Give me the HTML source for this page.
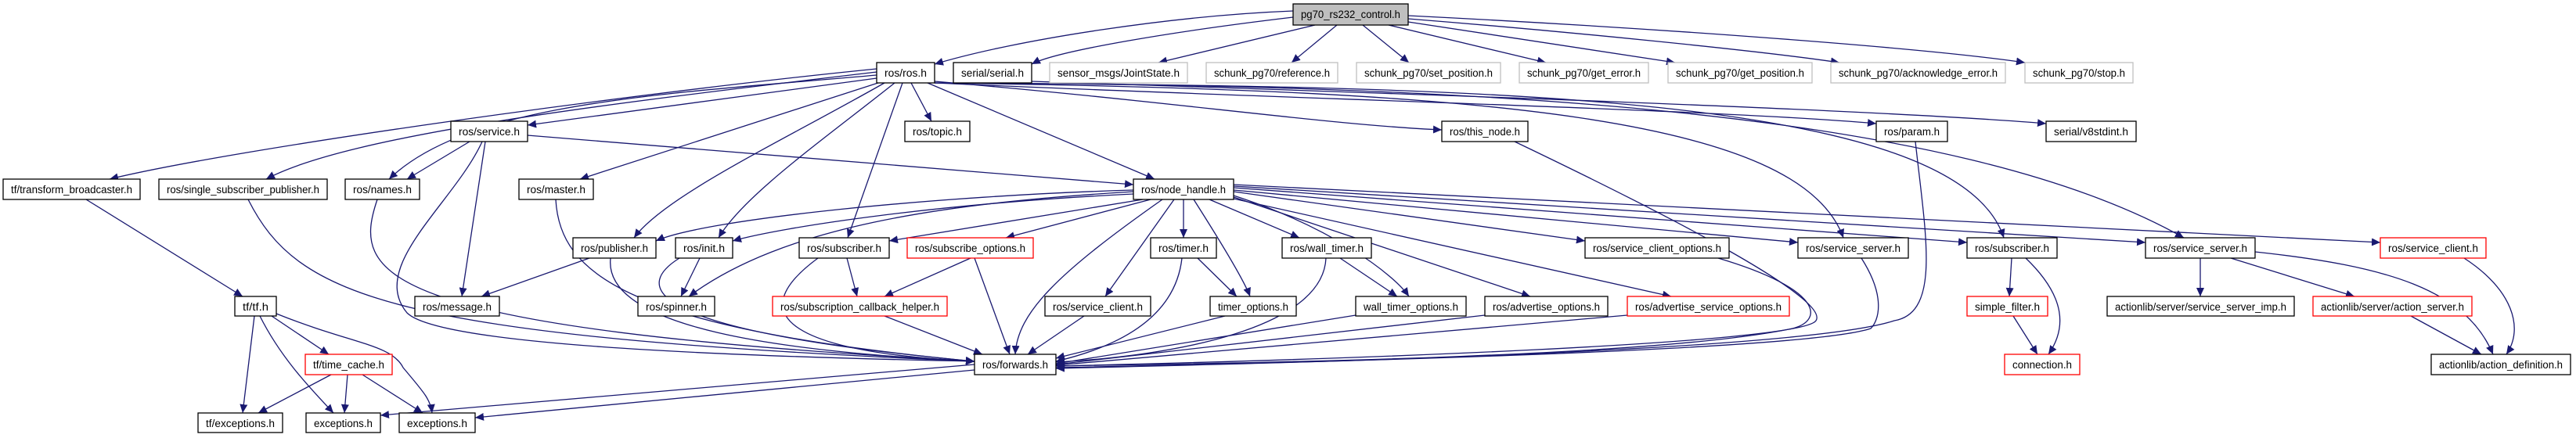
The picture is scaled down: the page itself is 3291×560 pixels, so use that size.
<!DOCTYPE html>
<html><head><meta charset="utf-8"><style>
html,body{margin:0;padding:0;background:#fff;}
svg{display:block;}
text{font-family:"Liberation Sans",sans-serif;font-size:13.5px;fill:#000;}
.e{fill:none;stroke:#191970;stroke-width:1.3;}
</style></head><body>
<svg xmlns="http://www.w3.org/2000/svg" width="3291" height="560" viewBox="0 0 3291 560">
<defs><marker id="a" markerUnits="userSpaceOnUse" markerWidth="12" markerHeight="10" refX="11" refY="5" orient="auto"><path d="M0,0 L11,5 L0,10 z" fill="#191970"/></marker></defs>
<g class="e" marker-end="url(#a)">
<!-- pg70 -->
<path d="M1652,14 C1500,20 1300,50 1194,82"/>
<path d="M1652,22 C1500,40 1350,65 1318,82"/>
<path d="M1680,32 L1480,80"/>
<path d="M1708,32 L1650,80"/>
<path d="M1741,32 L1800,80"/>
<path d="M1774,32 L1975,80"/>
<path d="M1799,28 L2140,80"/>
<path d="M1799,24 C2000,40 2250,65 2350,80"/>
<path d="M1799,20 C2100,35 2450,60 2587,80"/>
<!-- ros.h -->
<path d="M1120,88 C800,120 300,190 140,229"/>
<path d="M1120,92 C800,130 450,170 340,229"/>
<path d="M1120,96 C850,120 600,130 497,229"/>
<path d="M1120,100 L674,160"/>
<path d="M1128,104 L741,229"/>
<path d="M1130,106 C1000,180 850,250 810,304"/>
<path d="M1143,106 C1050,180 950,250 918,304"/>
<path d="M1153,106 L1083,304"/>
<path d="M1164,106 L1190,155"/>
<path d="M1185,106 L1475,229"/>
<path d="M1194,104 C1500,130 1700,160 1842,166"/>
<path d="M1194,106 C1600,125 2200,140 2397,158"/>
<path d="M1318,104 C1800,120 2400,140 2614,158"/>
<path d="M1194,106 C1900,115 2300,150 2355,304"/>
<path d="M1194,106 C1900,110 2500,120 2560,304"/>
<path d="M1194,106 C1900,108 2500,140 2790,304"/>
<!-- service.h -->
<path d="M600,181 L520,229"/>
<path d="M620,181 L590,379"/>
<path d="M616,181 C580,260 470,340 520,400 C560,440 900,455 1245,462"/>
<path d="M674,173 L1448,236"/>
<path d="M710,255 C715,350 800,420 1245,462"/>
<path d="M482,255 C450,350 470,420 1245,462"/>
<path d="M317,255 C380,380 500,430 1245,462"/>
<path d="M110,255 L310,379"/>
<path d="M753,330 L615,379"/>
<path d="M780,330 C770,420 1000,450 1245,462"/>
<path d="M894,330 L870,379"/>
<path d="M868,330 C820,360 790,420 1245,462"/>
<!-- node_handle -->
<path d="M1448,245 C1200,260 1000,290 880,379"/>
<path d="M1448,243 C1200,250 900,280 838,308"/>
<path d="M1448,248 C1200,260 1000,290 936,308"/>
<path d="M1460,255 L1136,308"/>
<path d="M1470,255 L1285,304"/>
<path d="M1485,255 C1350,350 1300,400 1297,453"/>
<path d="M1500,255 L1412,379"/>
<path d="M1512,255 L1512,304"/>
<path d="M1525,255 C1560,310 1590,360 1597,379"/>
<path d="M1545,255 L1660,304"/>
<path d="M1576,250 C1700,290 1780,350 1800,379"/>
<path d="M1576,252 L1955,379"/>
<path d="M1576,254 L2135,379"/>
<path d="M1576,245 L2025,308"/>
<path d="M1576,243 L2297,310"/>
<path d="M1576,240 L2513,310"/>
<path d="M1576,238 L2741,310"/>
<path d="M1576,236 L3041,310"/>
<!-- to forwards -->
<path d="M1082,330 L1095,379"/>
<path d="M1045,330 C950,400 1000,450 1245,462"/>
<path d="M1240,330 L1130,379"/>
<path d="M1245,330 L1290,453"/>
<path d="M1130,404 L1255,453"/>
<path d="M1385,404 L1313,453"/>
<path d="M1530,330 L1580,379"/>
<path d="M1510,330 C1500,420 1400,450 1349,462"/>
<path d="M1565,404 L1349,458"/>
<path d="M1712,330 L1785,379"/>
<path d="M1694,330 C1690,420 1500,455 1349,463"/>
<path d="M1732,403 L1349,465"/>
<path d="M1897,403 L1349,466"/>
<path d="M2079,403 L1349,467"/>
<path d="M2195,330 C2330,370 2330,410 2290,420 C2100,460 1500,465 1349,468"/>
<path d="M1935,181 C2100,260 2340,380 2320,410 C2300,440 1700,460 1349,468"/>
<path d="M2378,330 C2410,380 2400,410 2390,420 C2300,450 1600,465 1349,470"/>
<path d="M2447,181 C2460,300 2480,400 2420,410 C2300,450 1600,465 1349,471"/>
<!-- right cluster -->
<path d="M2570,330 L2567,379"/>
<path d="M2588,330 C2640,380 2640,420 2617,453"/>
<path d="M2572,404 L2603,453"/>
<path d="M2811,330 L2811,379"/>
<path d="M2850,330 L3008,379"/>
<path d="M2881,322 C3050,340 3150,370 3185,453"/>
<path d="M3080,404 L3170,453"/>
<path d="M3148,330 C3210,370 3225,420 3202,453"/>
<!-- tf -->
<path d="M325,404 L310,528"/>
<path d="M332,404 C360,460 400,500 426,528"/>
<path d="M347,404 L420,453"/>
<path d="M353,401 C450,440 500,440 515,470 C540,500 550,510 552,528"/>
<path d="M423,479 L330,528"/>
<path d="M444,479 L440,528"/>
<path d="M463,479 L540,528"/>
<path d="M1245,466 L486,531"/>
<path d="M1245,473 L607,534"/>
</g>
<g id="nodes"></g>
<g stroke-width="1.3">
<!-- boxes: x,y,w,h -->
<rect x="1652" y="5" width="147" height="27" fill="#bfbfbf" stroke="#000"/><text x="1725.5" y="23" text-anchor="middle" textLength="127" lengthAdjust="spacingAndGlyphs">pg70_rs232_control.h</text>

<rect x="1120" y="80" width="74" height="26" fill="#fff" stroke="#000"/><text x="1157" y="98" text-anchor="middle" textLength="54" lengthAdjust="spacingAndGlyphs">ros/ros.h</text>
<rect x="1218" y="80" width="100" height="26" fill="#fff" stroke="#000"/><text x="1268" y="98" text-anchor="middle" textLength="80" lengthAdjust="spacingAndGlyphs">serial/serial.h</text>
<rect x="1341" y="80" width="176" height="26" fill="#fff" stroke="#bfbfbf"/><text x="1429" y="98" text-anchor="middle" textLength="156" lengthAdjust="spacingAndGlyphs">sensor_msgs/JointState.h</text>
<rect x="1541" y="80" width="168" height="26" fill="#fff" stroke="#bfbfbf"/><text x="1625" y="98" text-anchor="middle" textLength="148" lengthAdjust="spacingAndGlyphs">schunk_pg70/reference.h</text>
<rect x="1733" y="80" width="184" height="26" fill="#fff" stroke="#bfbfbf"/><text x="1825" y="98" text-anchor="middle" textLength="164" lengthAdjust="spacingAndGlyphs">schunk_pg70/set_position.h</text>
<rect x="1941" y="80" width="165" height="26" fill="#fff" stroke="#bfbfbf"/><text x="2023.5" y="98" text-anchor="middle" textLength="145" lengthAdjust="spacingAndGlyphs">schunk_pg70/get_error.h</text>
<rect x="2131" y="80" width="184" height="26" fill="#fff" stroke="#bfbfbf"/><text x="2223" y="98" text-anchor="middle" textLength="164" lengthAdjust="spacingAndGlyphs">schunk_pg70/get_position.h</text>
<rect x="2339" y="80" width="223" height="26" fill="#fff" stroke="#bfbfbf"/><text x="2450.5" y="98" text-anchor="middle" textLength="203" lengthAdjust="spacingAndGlyphs">schunk_pg70/acknowledge_error.h</text>
<rect x="2587" y="80" width="138" height="26" fill="#fff" stroke="#bfbfbf"/><text x="2656" y="98" text-anchor="middle" textLength="118" lengthAdjust="spacingAndGlyphs">schunk_pg70/stop.h</text>

<rect x="576" y="155" width="98" height="26" fill="#fff" stroke="#000"/><text x="625" y="173" text-anchor="middle" textLength="78" lengthAdjust="spacingAndGlyphs">ros/service.h</text>
<rect x="1156" y="155" width="83" height="26" fill="#fff" stroke="#000"/><text x="1197.5" y="173" text-anchor="middle" textLength="63" lengthAdjust="spacingAndGlyphs">ros/topic.h</text>
<rect x="1842" y="155" width="110" height="26" fill="#fff" stroke="#000"/><text x="1897" y="173" text-anchor="middle" textLength="90" lengthAdjust="spacingAndGlyphs">ros/this_node.h</text>
<rect x="2397" y="155" width="91" height="26" fill="#fff" stroke="#000"/><text x="2442.5" y="173" text-anchor="middle" textLength="71" lengthAdjust="spacingAndGlyphs">ros/param.h</text>
<rect x="2614" y="155" width="115" height="26" fill="#fff" stroke="#000"/><text x="2671.5" y="173" text-anchor="middle" textLength="95" lengthAdjust="spacingAndGlyphs">serial/v8stdint.h</text>

<rect x="4" y="229" width="175" height="26" fill="#fff" stroke="#000"/><text x="91.5" y="247" text-anchor="middle" textLength="155" lengthAdjust="spacingAndGlyphs">tf/transform_broadcaster.h</text>
<rect x="203" y="229" width="215" height="26" fill="#fff" stroke="#000"/><text x="310.5" y="247" text-anchor="middle" textLength="195" lengthAdjust="spacingAndGlyphs">ros/single_subscriber_publisher.h</text>
<rect x="441" y="229" width="95" height="26" fill="#fff" stroke="#000"/><text x="488.5" y="247" text-anchor="middle" textLength="75" lengthAdjust="spacingAndGlyphs">ros/names.h</text>
<rect x="663" y="229" width="95" height="26" fill="#fff" stroke="#000"/><text x="710.5" y="247" text-anchor="middle" textLength="75" lengthAdjust="spacingAndGlyphs">ros/master.h</text>
<rect x="1448" y="229" width="128" height="26" fill="#fff" stroke="#000"/><text x="1512" y="247" text-anchor="middle" textLength="108" lengthAdjust="spacingAndGlyphs">ros/node_handle.h</text>

<rect x="732" y="304" width="106" height="26" fill="#fff" stroke="#000"/><text x="785" y="322" text-anchor="middle" textLength="86" lengthAdjust="spacingAndGlyphs">ros/publisher.h</text>
<rect x="863" y="304" width="73" height="26" fill="#fff" stroke="#000"/><text x="899.5" y="322" text-anchor="middle" textLength="53" lengthAdjust="spacingAndGlyphs">ros/init.h</text>
<rect x="1021" y="304" width="115" height="26" fill="#fff" stroke="#000"/><text x="1078.5" y="322" text-anchor="middle" textLength="95" lengthAdjust="spacingAndGlyphs">ros/subscriber.h</text>
<rect x="1159" y="304" width="161" height="26" fill="#fff" stroke="#ff0000"/><text x="1239.5" y="322" text-anchor="middle" textLength="141" lengthAdjust="spacingAndGlyphs">ros/subscribe_options.h</text>
<rect x="1470" y="304" width="84" height="26" fill="#fff" stroke="#000"/><text x="1512" y="322" text-anchor="middle" textLength="64" lengthAdjust="spacingAndGlyphs">ros/timer.h</text>
<rect x="1638" y="304" width="114" height="26" fill="#fff" stroke="#000"/><text x="1695" y="322" text-anchor="middle" textLength="94" lengthAdjust="spacingAndGlyphs">ros/wall_timer.h</text>
<rect x="2025" y="304" width="184" height="26" fill="#fff" stroke="#000"/><text x="2117" y="322" text-anchor="middle" textLength="164" lengthAdjust="spacingAndGlyphs">ros/service_client_options.h</text>
<rect x="2297" y="304" width="141" height="26" fill="#fff" stroke="#000"/><text x="2367.5" y="322" text-anchor="middle" textLength="121" lengthAdjust="spacingAndGlyphs">ros/service_server.h</text>
<rect x="2513" y="304" width="115" height="26" fill="#fff" stroke="#000"/><text x="2570.5" y="322" text-anchor="middle" textLength="95" lengthAdjust="spacingAndGlyphs">ros/subscriber.h</text>
<rect x="2741" y="304" width="140" height="26" fill="#fff" stroke="#000"/><text x="2811" y="322" text-anchor="middle" textLength="120" lengthAdjust="spacingAndGlyphs">ros/service_server.h</text>
<rect x="3041" y="304" width="135" height="26" fill="#fff" stroke="#ff0000"/><text x="3108.5" y="322" text-anchor="middle" textLength="115" lengthAdjust="spacingAndGlyphs">ros/service_client.h</text>

<rect x="300" y="379" width="53" height="25" fill="#fff" stroke="#000"/><text x="326.5" y="397" text-anchor="middle" textLength="33" lengthAdjust="spacingAndGlyphs">tf/tf.h</text>
<rect x="530" y="379" width="108" height="25" fill="#fff" stroke="#000"/><text x="584" y="397" text-anchor="middle" textLength="88" lengthAdjust="spacingAndGlyphs">ros/message.h</text>
<rect x="815" y="379" width="98" height="25" fill="#fff" stroke="#000"/><text x="864" y="397" text-anchor="middle" textLength="78" lengthAdjust="spacingAndGlyphs">ros/spinner.h</text>
<rect x="987" y="379" width="223" height="25" fill="#fff" stroke="#ff0000"/><text x="1098.5" y="397" text-anchor="middle" textLength="203" lengthAdjust="spacingAndGlyphs">ros/subscription_callback_helper.h</text>
<rect x="1335" y="379" width="135" height="25" fill="#fff" stroke="#000"/><text x="1402.5" y="397" text-anchor="middle" textLength="115" lengthAdjust="spacingAndGlyphs">ros/service_client.h</text>
<rect x="1546" y="379" width="110" height="25" fill="#fff" stroke="#000"/><text x="1601" y="397" text-anchor="middle" textLength="90" lengthAdjust="spacingAndGlyphs">timer_options.h</text>
<rect x="1732" y="379" width="141" height="25" fill="#fff" stroke="#000"/><text x="1802.5" y="397" text-anchor="middle" textLength="121" lengthAdjust="spacingAndGlyphs">wall_timer_options.h</text>
<rect x="1897" y="379" width="157" height="25" fill="#fff" stroke="#000"/><text x="1975.5" y="397" text-anchor="middle" textLength="137" lengthAdjust="spacingAndGlyphs">ros/advertise_options.h</text>
<rect x="2079" y="379" width="207" height="25" fill="#fff" stroke="#ff0000"/><text x="2182.5" y="397" text-anchor="middle" textLength="187" lengthAdjust="spacingAndGlyphs">ros/advertise_service_options.h</text>
<rect x="2513" y="379" width="103" height="25" fill="#fff" stroke="#ff0000"/><text x="2564.5" y="397" text-anchor="middle" textLength="83" lengthAdjust="spacingAndGlyphs">simple_filter.h</text>
<rect x="2692" y="379" width="239" height="25" fill="#fff" stroke="#000"/><text x="2811.5" y="397" text-anchor="middle" textLength="219" lengthAdjust="spacingAndGlyphs">actionlib/server/service_server_imp.h</text>
<rect x="2955" y="379" width="203" height="25" fill="#fff" stroke="#ff0000"/><text x="3056.5" y="397" text-anchor="middle" textLength="183" lengthAdjust="spacingAndGlyphs">actionlib/server/action_server.h</text>

<rect x="390" y="453" width="111" height="26" fill="#fff" stroke="#ff0000"/><text x="445.5" y="471" text-anchor="middle" textLength="91" lengthAdjust="spacingAndGlyphs">tf/time_cache.h</text>
<rect x="1245" y="453" width="104" height="26" fill="#fff" stroke="#000"/><text x="1297" y="471" text-anchor="middle" textLength="84" lengthAdjust="spacingAndGlyphs">ros/forwards.h</text>
<rect x="2561" y="453" width="96" height="26" fill="#fff" stroke="#ff0000"/><text x="2609" y="471" text-anchor="middle" textLength="76" lengthAdjust="spacingAndGlyphs">connection.h</text>
<rect x="3106" y="453" width="178" height="26" fill="#fff" stroke="#000"/><text x="3195" y="471" text-anchor="middle" textLength="158" lengthAdjust="spacingAndGlyphs">actionlib/action_definition.h</text>

<rect x="253" y="528" width="108" height="25" fill="#fff" stroke="#000"/><text x="307" y="546" text-anchor="middle" textLength="88" lengthAdjust="spacingAndGlyphs">tf/exceptions.h</text>
<rect x="391" y="528" width="95" height="25" fill="#fff" stroke="#000"/><text x="438.5" y="546" text-anchor="middle" textLength="75" lengthAdjust="spacingAndGlyphs">exceptions.h</text>
<rect x="510" y="528" width="97" height="25" fill="#fff" stroke="#000"/><text x="558.5" y="546" text-anchor="middle" textLength="77" lengthAdjust="spacingAndGlyphs">exceptions.h</text>
</g>
</svg>
</body></html>
